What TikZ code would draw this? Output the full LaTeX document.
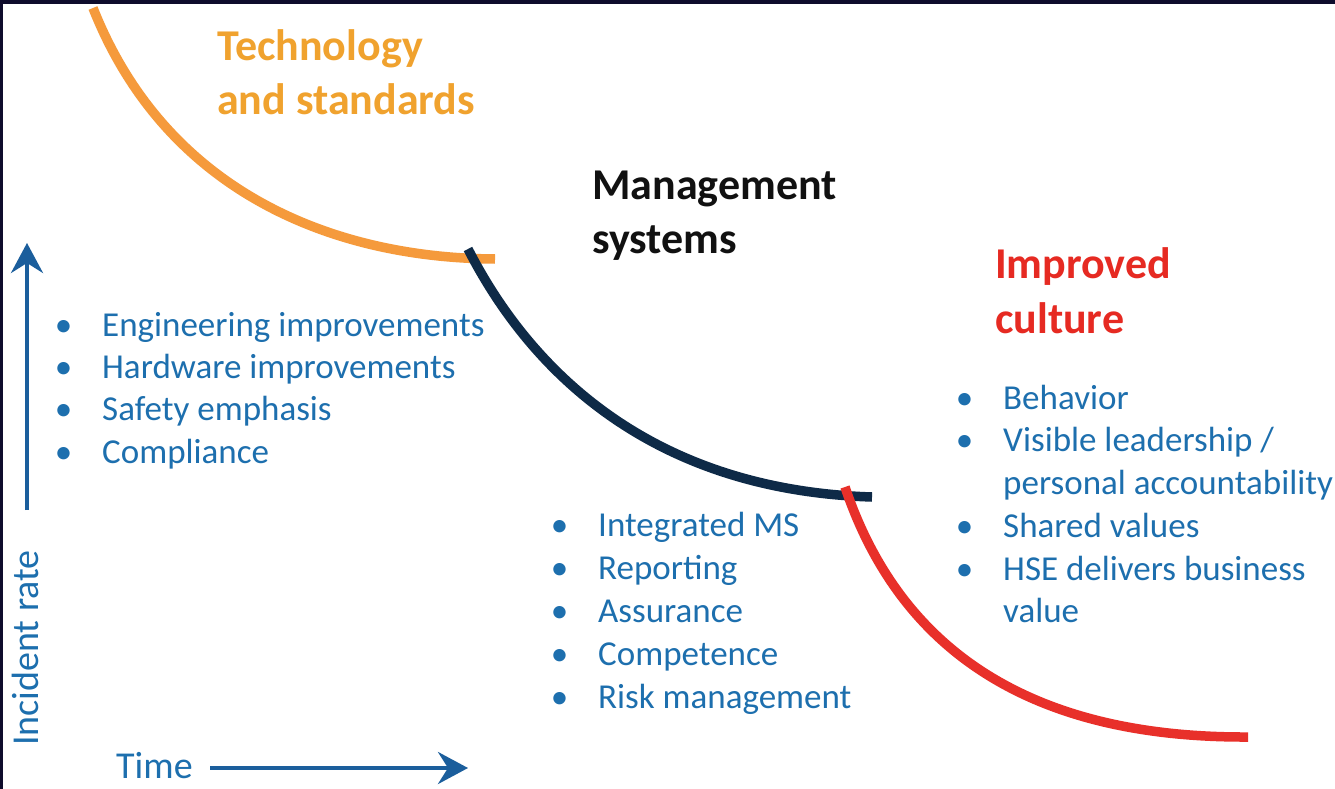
\documentclass[tikz,border=0pt]{standalone}
\usepackage{fontspec}
\setmainfont{Carlito}
\usetikzlibrary{arrows.meta}
\definecolor{frame}{HTML}{0E0C2C}
\definecolor{curveorange}{HTML}{F59A3C}
\definecolor{titleorange}{HTML}{F0A22E}
\definecolor{curvenavy}{HTML}{0E2A47}
\definecolor{curvered}{HTML}{E8302A}
\definecolor{titlered}{HTML}{E62A22}
\definecolor{itemblue}{HTML}{1D6FAE}
\definecolor{axisblue}{HTML}{1B5E9C}
\definecolor{titleblack}{HTML}{111111}
\tikzset{
  title/.style={anchor=base west, inner sep=0pt, font=\bfseries\fontsize{44pt}{54pt}\selectfont},
  item/.style={anchor=base west, inner sep=0pt, text=itemblue, font=\fontsize{35pt}{42pt}\selectfont},
  axislabel/.style={inner sep=0pt, text=itemblue, font=\fontsize{38pt}{44pt}\selectfont},
  curve/.style={line width=9.5pt, line cap=butt},
  axis/.style={draw=axisblue, line width=4pt, -{Stealth[length=30pt, width=32pt, inset=10pt]}}
}
\newcommand{\bul}{\llap{\textbullet\hspace{30pt}}}
\begin{document}
\begin{tikzpicture}[x=1pt, y=-1pt]
\useasboundingbox (0,0) rectangle (1335,789);
\fill[white] (0,0) rectangle (1335,789);
\fill[frame] (0,0) rectangle (1335,4);
\fill[frame] (0,0) rectangle (3,789);

% curves
\draw[curve, curveorange] (93,8) .. controls (165,190) and (330,258) .. (495,259);
\draw[curve, curvenavy] (468,249) .. controls (530,370) and (650,490) .. (872,497);
\draw[curve, curvered] (845,487) .. controls (900,650) and (1030,738) .. (1248,737);

% titles
\node[title, text=titleorange] (tech1) at (217,61) {Technology};
\node[title, text=titleorange] (tech2) at (217,115) {and standards};
\node[title, text=titleblack] (mgmt1) at (592,199) {Management};
\node[title, text=titleblack] (mgmt2) at (592,253) {systems};
\node[title, text=titlered] (cult1) at (995,278) {Improved};
\node[title, text=titlered] (cult2) at (995,333) {culture};

% left list
\node[item] (l1) at (102,336) {\bul Engineering improvements};
\node[item] (l2) at (102,378) {\bul Hardware improvements};
\node[item] (l3) at (102,420) {\bul Safety emphasis};
\node[item] (l4) at (102,463) {\bul Compliance};

% middle list
\node[item] (m1) at (598,536) {\bul Integrated MS};
\node[item] (m2) at (598,579) {\bul Reporting};
\node[item] (m3) at (598,622) {\bul Assurance};
\node[item] (m4) at (598,665) {\bul Competence};
\node[item] (m5) at (598,708) {\bul Risk management};

% right list
\node[item] (r1) at (1003,409) {\bul Behavior};
\node[item] (r2) at (1003,451) {\bul Visible leadership /};
\node[item] (r3) at (1003,494) {personal accountability};
\node[item] (r4) at (1003,537) {\bul Shared values};
\node[item] (r5) at (1003,580) {\bul HSE delivers business};
\node[item] (r6) at (1003,622) {value};

% axes
\node[axislabel, rotate=90, anchor=base west] (ylab) at (38,746) {Incident rate};
\node[axislabel, anchor=base west] (xlab) at (116,778) {Time};
\coordinate (ybot) at (27,510);
\coordinate (ytop) at (27,243);
\coordinate (xleft) at (210,768);
\coordinate (xright) at (468,768);
\draw[axis] (ybot) -- (ytop);
\draw[axis] (xleft) -- (xright);
\end{tikzpicture}
\end{document}
